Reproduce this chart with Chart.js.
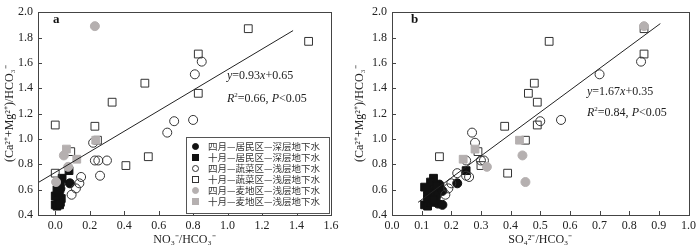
<!DOCTYPE html>
<html>
<head>
<meta charset="utf-8">
<script src="https://cdn.jsdelivr.net/npm/chart.js@4/dist/chart.umd.min.js"></script>
<style>
  body { margin: 0; background: #fff; }
  .wrap { display: flex; width: 700px; height: 250px; }
  .panel { position: relative; width: 350px; height: 250px; }
  .note { position: absolute; font-family: "Liberation Serif", serif; font-size: 12px; color: #222; white-space: nowrap; line-height: 14px; }
  .tag { position: absolute; font-family: "Liberation Serif", serif; font-size: 13px; font-weight: bold; color: #111; }
  .legend { position: absolute; left: 186px; top: 137px; width: 144px; height: 77px; border: 1px solid #555; background: #fff;
            font-family: "Noto Sans CJK SC", sans-serif; font-size: 9.5px; color: #333; padding-top: 3px; box-sizing: border-box; }
  .legend div { position: relative; height: 11px; line-height: 11px; padding-left: 21px; }
  .legend span { position: absolute; left: 5px; top: 2px; width: 7px; height: 7px; box-sizing: border-box; }
</style>
</head>
<body>
<div class="wrap">
  <div class="panel">
    <canvas id="chartA" width="350" height="250"></canvas>
    <div class="tag" style="left:53px;top:11px">a</div>
    <div class="note" style="left:227px;top:68px"><i>y</i>=0.93<i>x</i>+0.65</div>
    <div class="note" style="left:227px;top:88px"><i>R</i><sup style="font-size:7px">2</sup>=0.66, <i>P</i>&lt;0.05</div>
    <div class="legend" id="legendA"></div>
  </div>
  <div class="panel">
    <canvas id="chartB" width="350" height="250"></canvas>
    <div class="tag" style="left:61px;top:11px">b</div>
    <div class="note" style="left:237px;top:84px"><i>y</i>=1.67<i>x</i>+0.35</div>
    <div class="note" style="left:237px;top:102px"><i>R</i><sup style="font-size:7px">2</sup>=0.84, <i>P</i>&lt;0.05</div>
  </div>
</div>
<script>
// 图例名称
const seriesNames = [
  "四月—居民区—深层地下水",
  "十月—居民区—深层地下水",
  "四月—蔬菜区—浅层地下水",
  "十月—蔬菜区—浅层地下水",
  "四月—麦地区—浅层地下水",
  "十月—麦地区—浅层地下水",
];

// 刻度
const xTicksA = [0, 0.2, 0.4, 0.6, 0.8, 1.0, 1.2, 1.4, 1.6];
const xTicksB = [0, 0.1, 0.2, 0.3, 0.4, 0.5, 0.6, 0.7, 0.8, 0.9, 1.0];
const yTicks = [0.4, 0.6, 0.8, 1.0, 1.2, 1.4, 1.6, 1.8, 2.0];

// a: NO3/HCO3 vs (Ca+Mg)/HCO3
const aprilResDeepA = [[0.085,0.65],[0.01,0.48],[0.02,0.50],[0.015,0.53],[0.02,0.56],[0.025,0.59],[0.03,0.61],[0.01,0.55],[0.02,0.63]];
const octResDeepA = [[0.08,0.75],[0.04,0.69],[0.0,0.48],[0.01,0.47],[0.03,0.50],[0.035,0.53],[0.0,0.55],[0.02,0.58],[0.01,0.60],[0.03,0.66],[0.025,0.48]];
const aprilVegA = [[0.85,1.61],[0.81,1.51],[0.69,1.14],[0.80,1.15],[0.65,1.05],[0.22,0.97],[0.23,0.83],[0.25,0.83],[0.30,0.83],[0.26,0.71],[0.15,0.70],[0.14,0.65],[0.12,0.61],[0.095,0.56]];
const octVegA = [[1.12,1.87],[1.47,1.77],[0.83,1.67],[0.52,1.44],[0.83,1.36],[0.33,1.29],[0.0,1.11],[0.23,1.10],[0.245,0.99],[0.09,0.90],[0.54,0.86],[0.41,0.79],[0.0,0.73]];
const aprilWheatA = [[0.23,1.89],[0.05,0.87],[0.075,0.78],[0.005,0.66]];
const octWheatA = [[0.065,0.92],[0.125,0.84],[0.235,0.99]];
const fitA = [[-0.1,0.655],[1.38,1.855]];

// b: SO4/HCO3 vs (Ca+Mg)/HCO3
const aprilResDeepB = [[0.22,0.65],[0.155,0.49],[0.17,0.48],[0.165,0.60],[0.15,0.61],[0.16,0.64],[0.14,0.57],[0.15,0.55],[0.17,0.59]];
const octResDeepB = [[0.25,0.75],[0.14,0.69],[0.11,0.48],[0.12,0.47],[0.13,0.50],[0.12,0.53],[0.12,0.55],[0.13,0.58],[0.12,0.60],[0.13,0.66],[0.14,0.52],[0.15,0.63],[0.11,0.62]];
const aprilVegB = [[0.84,1.61],[0.70,1.51],[0.50,1.14],[0.57,1.15],[0.27,1.05],[0.28,0.97],[0.25,0.83],[0.30,0.83],[0.31,0.83],[0.26,0.70],[0.25,0.71],[0.22,0.73],[0.20,0.65],[0.19,0.61],[0.18,0.56]];
const octVegB = [[0.85,1.87],[0.53,1.77],[0.85,1.67],[0.48,1.44],[0.46,1.36],[0.49,1.29],[0.49,1.11],[0.38,1.10],[0.45,0.99],[0.29,0.90],[0.16,0.86],[0.30,0.79],[0.39,0.73]];
const aprilWheatB = [[0.85,1.89],[0.44,0.87],[0.32,0.78],[0.45,0.66]];
const octWheatB = [[0.28,0.92],[0.24,0.84],[0.43,0.99]];
const fitB = [[0.088,0.50],[0.905,1.91]];

const black = "#111";
const grey = "#b5b0b0";
const edge = "#333";
// 每个系列的样式: 点形, 填充, 边框
const styles = [
  { shape: "circle", fill: black, line: black, r: 4.5 },
  { shape: "rect", fill: black, line: black, r: 5.5 },
  { shape: "circle", fill: "rgba(0,0,0,0)", line: edge, r: 4.5 },
  { shape: "rect", fill: "rgba(0,0,0,0)", line: edge, r: 5.5 },
  { shape: "circle", fill: grey, line: grey, r: 4.5 },
  { shape: "rect", fill: grey, line: grey, r: 5.5 },
];

const toPts = (arr) => arr.map((p) => ({ x: p[0], y: p[1] }));

// 刻度线朝内 + 边框
const innerTicks = {
  id: "innerTicks",
  afterDatasetsDraw(chart) {
    const { ctx, chartArea: a, scales } = chart;
    ctx.save();
    ctx.strokeStyle = "#444";
    ctx.lineWidth = 1;
    ctx.strokeRect(Math.round(a.left) + 0.5, Math.round(a.top) + 0.5, Math.round(a.right - a.left), Math.round(a.bottom - a.top));
    ctx.beginPath();
    scales.x.ticks.forEach((t) => {
      const px = Math.round(scales.x.getPixelForValue(t.value)) + 0.5;
      ctx.moveTo(px, a.bottom);
      ctx.lineTo(px, a.bottom - 4);
    });
    scales.y.ticks.forEach((t) => {
      const py = Math.round(scales.y.getPixelForValue(t.value)) + 0.5;
      ctx.moveTo(a.left, py);
      ctx.lineTo(a.left + 4, py);
    });
    ctx.stroke();
    ctx.restore();
  },
};

function makeChart(id, groups, fit, xTicks, xMin, xMax, xTitle, yWidth, padRight) {
  const datasets = groups.map((g, i) => ({
    label: seriesNames[i],
    data: toPts(g),
    pointStyle: styles[i].shape,
    pointRadius: styles[i].r,
    pointHoverRadius: styles[i].r,
    backgroundColor: styles[i].fill,
    borderColor: styles[i].line,
    pointBorderWidth: 1,
    order: 6 - i,
  }));
  datasets.push({
    type: "line",
    data: toPts(fit),
    borderColor: "#222",
    borderWidth: 1,
    pointRadius: 0,
    fill: false,
    order: 0,
  });
  const tickFont = { family: "Liberation Serif", size: 12 };
  return new Chart(id, {
    type: "scatter",
    data: { datasets: datasets },
    options: {
      responsive: false,
      animation: false,
      events: [],
      layout: { padding: { top: 5, right: padRight, left: 0, bottom: 0 } },
      plugins: { legend: { display: false }, tooltip: { enabled: false } },
      scales: {
        x: {
          type: "linear",
          min: xMin,
          max: xMax,
          grid: { display: false, drawTicks: false },
          border: { display: false },
          afterBuildTicks: (s) => { s.ticks = xTicks.map((v) => ({ value: v })); },
          afterFit: (s) => { s.height = 35; },
          ticks: { autoSkip: false, color: "#222", font: tickFont, padding: 4, maxRotation: 0, callback: (v) => Number(v).toFixed(1) },
          title: { display: true, text: xTitle, color: "#222", font: tickFont, padding: { top: 0, bottom: 3 } },
        },
        y: {
          type: "linear",
          min: 0.4,
          max: 2.0,
          grid: { display: false, drawTicks: false },
          border: { display: false },
          afterBuildTicks: (s) => { s.ticks = yTicks.map((v) => ({ value: v })); },
          afterFit: (s) => { s.width = yWidth; },
          ticks: { autoSkip: false, color: "#222", font: tickFont, padding: 5, callback: (v) => Number(v).toFixed(1) },
          title: { display: true, text: "(Ca²⁺+Mg²⁺)/HCO₃⁻", color: "#222", font: tickFont, padding: { top: 3, bottom: 0 } },
        },
      },
    },
    plugins: [innerTicks],
  });
}

makeChart("chartA",
  [aprilResDeepA, octResDeepA, aprilVegA, octVegA, aprilWheatA, octWheatA],
  fitA, xTicksA, -0.1, 1.6, "NO₃⁻/HCO₃⁻", 38, 19);
makeChart("chartB",
  [aprilResDeepB, octResDeepB, aprilVegB, octVegB, aprilWheatB, octWheatB],
  fitB, xTicksB, 0, 1.0, "SO₄²⁻/HCO₃⁻", 42, 8);

// 图例 (图a 右下角)
const legendBox = document.getElementById("legendA");
seriesNames.forEach((name, i) => {
  const row = document.createElement("div");
  const mark = document.createElement("span");
  const st = styles[i];
  mark.style.background = st.fill;
  mark.style.border = "1px solid " + st.line;
  if (st.shape === "circle") mark.style.borderRadius = "50%";
  row.appendChild(mark);
  row.appendChild(document.createTextNode(name));
  legendBox.appendChild(row);
});
</script>
</body>
</html>
